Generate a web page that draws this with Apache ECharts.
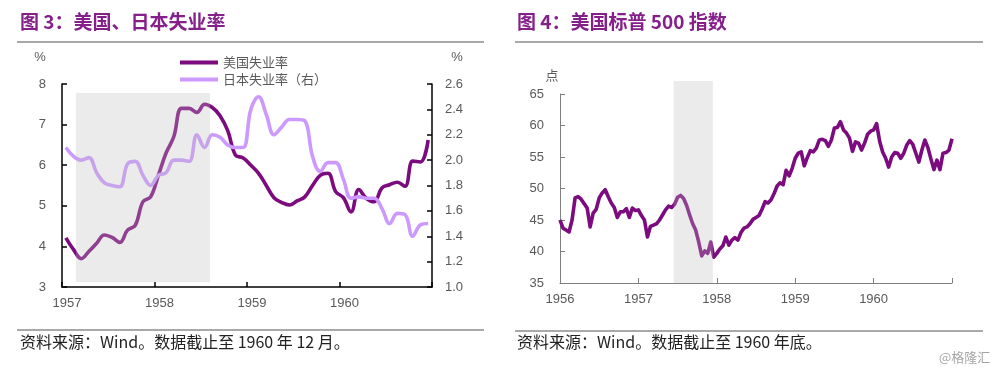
<!DOCTYPE html>
<html><head><meta charset="utf-8">
<script src="https://cdn.jsdelivr.net/npm/echarts@6/dist/echarts.min.js"></script>
<style>html,body{margin:0;padding:0;background:#fff}#c{width:1000px;height:370px}</style>
</head><body><div id="c"></div>
<script>
// ---- Figure 3: monthly unemployment, Jan 1957 – Dec 1960 ----
const unempStartYear = 1957;
const usUnemp = [4.21,3.92,3.70,3.88,4.08,4.28,4.22,4.10,4.40,4.52,
  5.10,5.22,5.75,6.30,6.70,7.40,7.40,7.30,7.50,7.42,
  7.22,6.85,6.25,6.18,6.00,5.80,5.50,5.20,5.08,5.02,
  5.12,5.22,5.50,5.75,5.80,5.35,5.20,4.85,5.40,5.18,
  5.10,5.44,5.52,5.58,5.48,6.10,6.08,6.62];
const jpUnemp = [2.10,2.03,2.00,2.02,1.90,1.82,1.80,1.79,1.97,1.99,
  1.88,1.80,1.88,1.90,2.00,2.00,1.99,2.20,2.10,2.20,
  2.18,2.12,2.10,2.10,2.40,2.50,2.36,2.20,2.26,2.32,
  2.32,2.31,2.03,1.91,1.98,1.98,1.85,1.70,1.71,1.70,
  1.70,1.62,1.50,1.58,1.57,1.40,1.49,1.50];
const seriesNames = ['美国失业率', '日本失业率（右）'];
const fig3Years = [1957, 1961];
const fig3Recession = {x: [1957.15, 1958.6], y: [3.12, 7.78]};

// ---- Figure 4: S&P 500, biweekly, Jan 1956 – Dec 1960 ----
const spxStartYear = 1956;
const spxPerYear = 26;
const spx = [45.0,43.7,43.4,43.1,45.0,48.5,48.7,48.3,47.6,46.9,
  43.9,46.1,46.7,48.5,49.3,49.8,48.7,47.7,47.0,45.4,
  46.3,46.3,46.8,45.4,46.9,46.5,46.6,45.7,45.0,42.3,
  44.0,44.2,44.4,45.0,45.8,46.6,47.2,47.0,47.5,48.6,
  48.9,48.4,47.3,45.8,44.4,43.4,41.5,39.3,40.1,39.7,
  41.5,39.1,39.7,40.4,40.9,42.3,41.0,41.8,42.2,41.8,
  43.0,43.7,43.9,44.4,45.1,45.4,45.7,46.7,47.9,47.7,
  48.2,49.2,50.4,50.9,50.6,52.9,52.0,53.2,54.8,55.6,
  55.8,53.6,54.9,56.0,55.8,56.4,57.7,57.8,57.6,56.7,
  57.7,59.6,59.7,60.6,59.3,58.8,58.0,55.9,57.4,57.2,
  56.1,57.2,58.6,59.1,59.3,60.3,57.5,55.8,54.8,53.4,
  55.0,55.7,55.6,54.8,55.6,56.9,57.6,57.0,55.6,54.2,
  56.1,57.7,56.5,54.7,53.0,54.5,53.0,55.6,55.7,56.1,
  57.9];
const fig4Years = [1956, 1961];
const fig4Recession = [1957.45, 1957.95];

const PURPLE = '#7B0B7E', LAV = '#CC99FF', LABEL = '#595959';
const SHADE = 'rgba(190,190,190,0.3)';
const NUM_FONT = "'Liberation Sans', Arial, 'Noto Sans CJK SC', sans-serif";
const CJK_FONT = "'Noto Sans CJK SC', sans-serif";
const yearFmt = last => v => (v < last ? String(v) : '');

const chart = echarts.init(document.getElementById('c'), null, {renderer: 'canvas'});
const option = {
  animation: false,
  backgroundColor: '#fff',
  textStyle: {fontFamily: NUM_FONT},
  title: [
    {text: '图 3：美国、日本失业率', left: 20, top: 12, padding: 0,
     textStyle: {color: '#85208A', fontSize: 19, fontWeight: 'bold', fontFamily: CJK_FONT}},
    {text: '图 4：美国标普 500 指数', left: 517, top: 12, padding: 0,
     textStyle: {color: '#85208A', fontSize: 19, fontWeight: 'bold', fontFamily: CJK_FONT}},
    {text: '资料来源：Wind。数据截止至 1960 年 12 月。', left: 20, top: 334, padding: 0,
     textStyle: {color: '#222', fontSize: 16, fontWeight: 'normal', fontFamily: CJK_FONT}},
    {text: '资料来源：Wind。数据截止至 1960 年底。', left: 517, top: 334, padding: 0,
     textStyle: {color: '#222', fontSize: 16, fontWeight: 'normal', fontFamily: CJK_FONT}},
    {text: '@格隆汇', left: 939, top: 351, padding: 0,
     textStyle: {color: '#a6a6a6', fontSize: 13, fontWeight: 'normal', fontFamily: CJK_FONT}}
  ],
  graphic: [
    {type: 'line', shape: {x1: 17, y1: 42, x2: 484, y2: 42}, style: {stroke: '#8c8c8c', lineWidth: 1.5}},
    {type: 'line', shape: {x1: 515, y1: 42, x2: 983, y2: 42}, style: {stroke: '#8c8c8c', lineWidth: 1.5}},
    {type: 'line', shape: {x1: 17, y1: 330, x2: 484, y2: 330}, style: {stroke: '#8c8c8c', lineWidth: 1.5}},
    {type: 'line', shape: {x1: 515, y1: 331, x2: 983, y2: 331}, style: {stroke: '#8c8c8c', lineWidth: 1.5}}
  ],
  legend: {
    data: seriesNames, orient: 'vertical', left: 180, top: 56,
    icon: 'rect', itemWidth: 38, itemHeight: 4, itemGap: 4, padding: 0,
    textStyle: {color: LABEL, fontSize: 13, fontFamily: CJK_FONT}
  },
  grid: [
    {left: 62, top: 84, width: 370, height: 203},
    {left: 560, top: 94, width: 392, height: 189},
    {left: 560, top: 81, width: 392, height: 202}
  ],
  xAxis: [
    {gridIndex: 0, type: 'value', min: fig3Years[0], max: fig3Years[1], interval: 1,
     axisLine: {lineStyle: {color: '#000', width: 1.5}},
     axisTick: {inside: true, length: 5, lineStyle: {color: '#000', width: 1.5}},
     axisLabel: {formatter: yearFmt(fig3Years[1]), color: LABEL, fontSize: 13, margin: 10, padding: [0, 0, 0, 10]},
     splitLine: {show: false}},
    {gridIndex: 1, type: 'value', min: fig4Years[0], max: fig4Years[1], interval: 1,
     axisLine: {lineStyle: {color: '#7f7f7f', width: 1}},
     axisTick: {inside: true, length: 5, lineStyle: {color: '#7f7f7f'}},
     axisLabel: {formatter: yearFmt(fig4Years[1]), color: LABEL, fontSize: 13, margin: 10},
     splitLine: {show: false}},
    {gridIndex: 2, type: 'value', min: fig4Years[0], max: fig4Years[1], show: false}
  ],
  yAxis: [
    {gridIndex: 0, type: 'value', min: 3, max: 8, interval: 1,
     name: '%', nameLocation: 'end', nameGap: 20,
     nameTextStyle: {color: LABEL, fontSize: 13, align: 'center', padding: [0, 44, 0, 0]},
     axisLine: {show: true, lineStyle: {color: '#000', width: 1.5}},
     axisTick: {show: true, inside: true, length: 5, lineStyle: {color: '#000', width: 1.5}},
     axisLabel: {color: LABEL, fontSize: 13, margin: 16},
     splitLine: {show: false}},
    {gridIndex: 0, type: 'value', position: 'right', min: 1.0, max: 2.6, interval: 0.2,
     name: '%', nameLocation: 'end', nameGap: 20,
     nameTextStyle: {color: LABEL, fontSize: 13, align: 'center', padding: [0, 0, 0, 50]},
     axisLine: {show: true, lineStyle: {color: '#000', width: 1.5}},
     axisTick: {show: true, inside: true, length: 5, lineStyle: {color: '#000', width: 1.5}},
     axisLabel: {color: LABEL, fontSize: 13, margin: 13, formatter: v => v.toFixed(1)},
     splitLine: {show: false}},
    {gridIndex: 1, type: 'value', min: 35, max: 65, interval: 5,
     name: '点', nameLocation: 'end', nameGap: 12,
     nameTextStyle: {color: LABEL, fontSize: 13, align: 'center', padding: [0, 16, 0, 0], fontFamily: CJK_FONT},
     axisLine: {show: true, lineStyle: {color: '#7f7f7f', width: 1}},
     axisTick: {show: true, inside: true, length: 5, lineStyle: {color: '#7f7f7f'}},
     axisLabel: {color: LABEL, fontSize: 13, margin: 16},
     splitLine: {show: false}},
    {gridIndex: 2, type: 'value', min: 0, max: 1, show: false}
  ],
  series: [
    {name: seriesNames[0], type: 'line', xAxisIndex: 0, yAxisIndex: 0, z: 1,
     data: usUnemp.map((v, m) => [unempStartYear + (m + 0.5) / 12, v]),
     symbol: 'none', smooth: 0.4, color: PURPLE,
     lineStyle: {width: 3.6, color: PURPLE},
     markArea: {silent: true, z: 5, itemStyle: {color: SHADE},
       data: [[{xAxis: fig3Recession.x[0], yAxis: fig3Recession.y[0]},
               {xAxis: fig3Recession.x[1], yAxis: fig3Recession.y[1]}]]}},
    {name: seriesNames[1], type: 'line', xAxisIndex: 0, yAxisIndex: 1, z: 1,
     data: jpUnemp.map((v, m) => [unempStartYear + (m + 0.5) / 12, v]),
     symbol: 'none', smooth: 0.4, color: LAV,
     lineStyle: {width: 3.6, color: LAV}},
    {name: '标普500', type: 'line', xAxisIndex: 1, yAxisIndex: 2, z: 1,
     data: spx.map((v, i) => [spxStartYear + i / spxPerYear, v]),
     symbol: 'none', color: PURPLE,
     lineStyle: {width: 3.6, color: PURPLE, join: 'round'}},
    {name: 'shade', type: 'line', xAxisIndex: 2, yAxisIndex: 3, data: [], z: 5,
     markArea: {silent: true, z: 5, itemStyle: {color: SHADE},
       data: [[{xAxis: fig4Recession[0]}, {xAxis: fig4Recession[1]}]]}}
  ]
};
chart.setOption(option);
</script></body></html>
